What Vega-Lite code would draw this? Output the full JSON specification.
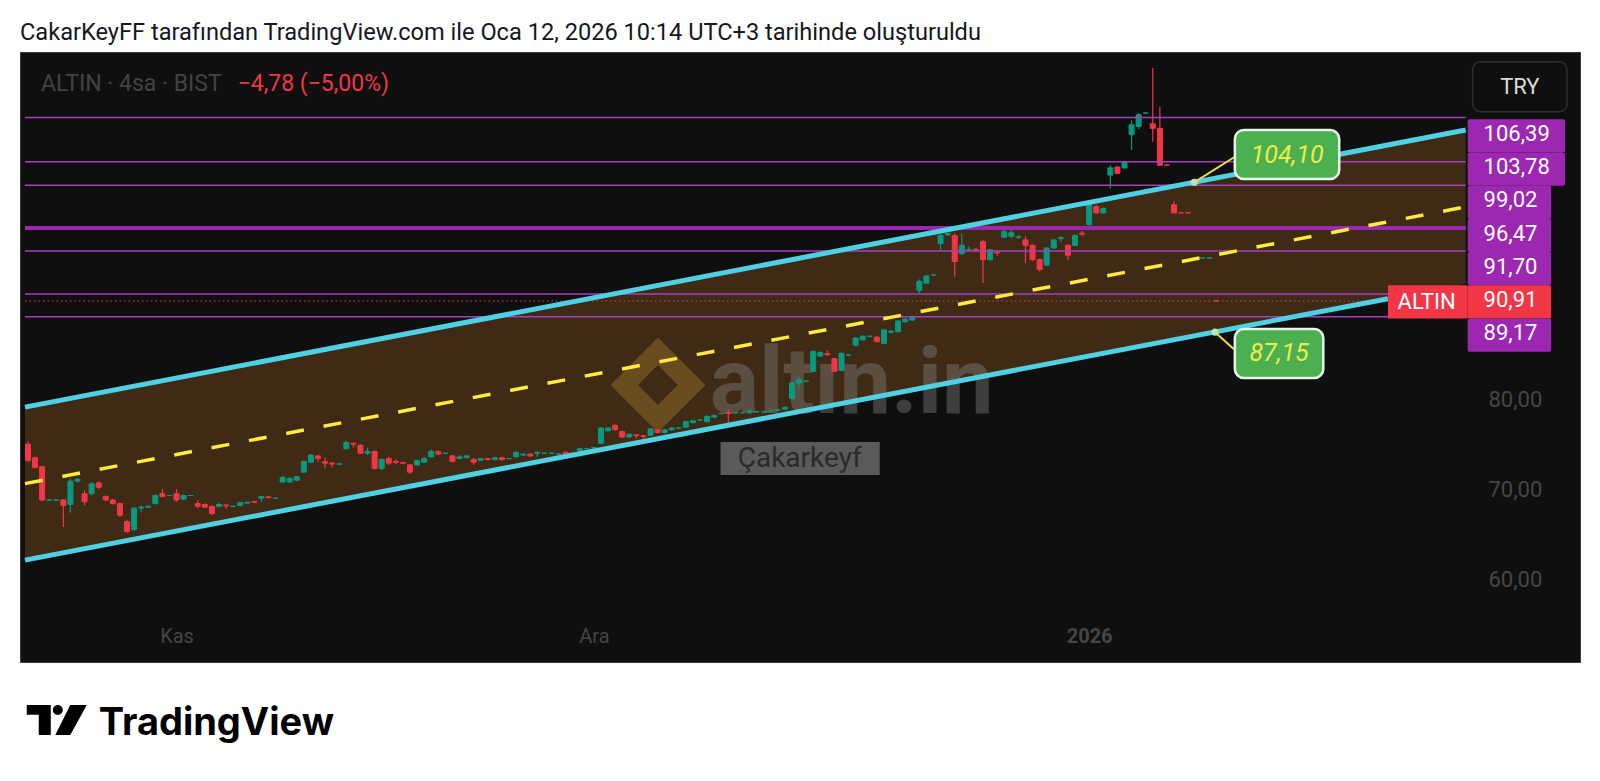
{
"$schema": "https://vega.github.io/schema/vega-lite/v6.json",
"width": 1560, "height": 610,
"autosize": {"type": "none"},
"padding": {"left": 20, "top": 52, "right": 20, "bottom": 119},
"background": "#ffffff",
"title": {"text": "CakarKeyFF tarafından TradingView.com ile Oca 12, 2026 10:14 UTC+3 tarihinde oluşturuldu", "anchor": "start", "frame": "group", "orient": "top", "font": "Roboto", "fontSize": 23.6, "fontWeight": "normal", "color": "#131722", "baseline": "alphabetic", "offset": 14, "dy": 26},
"datasets": {
"bars": [
{"i":0,"o":75.0,"h":75.3,"l":73.0,"c":73.2},{"i":1,"o":73.5,"h":73.6,"l":72.3,"c":72.4},{"i":2,"o":72.5,"h":72.6,"l":68.7,"c":68.8},{"i":3,"o":68.8,"h":68.9,"l":68.7,"c":68.8},{"i":4,"o":68.8,"h":68.9,"l":68.75,"c":68.8},{"i":5,"o":68.8,"h":68.9,"l":65.8,"c":68.2},{"i":6,"o":68.3,"h":71.2,"l":67.4,"c":70.9},{"i":7,"o":70.9,"h":71.3,"l":70.7,"c":71.1},{"i":8,"o":69.5,"h":69.9,"l":68.2,"c":68.6},{"i":9,"o":69.5,"h":70.8,"l":69.3,"c":70.6},
{"i":10,"o":70.7,"h":70.9,"l":70.0,"c":70.2},{"i":11,"o":69.2,"h":69.3,"l":68.7,"c":68.8},{"i":12,"o":68.8,"h":68.9,"l":68.3,"c":68.4},{"i":13,"o":68.4,"h":68.5,"l":66.9,"c":67.1},{"i":14,"o":66.4,"h":66.6,"l":65.1,"c":65.3},{"i":15,"o":65.5,"h":68.0,"l":65.4,"c":67.9},{"i":16,"o":67.9,"h":68.2,"l":67.4,"c":68.0},{"i":17,"o":68.0,"h":68.2,"l":67.9,"c":68.1},{"i":18,"o":68.4,"h":69.5,"l":68.3,"c":69.3},{"i":19,"o":69.5,"h":70.0,"l":69.1,"c":69.2},
{"i":20,"o":69.3,"h":69.35,"l":69.25,"c":69.3},{"i":21,"o":69.5,"h":70.0,"l":68.6,"c":68.8},{"i":22,"o":68.9,"h":69.4,"l":68.8,"c":69.3},{"i":23,"o":69.3,"h":69.35,"l":69.25,"c":69.3},{"i":24,"o":68.4,"h":68.8,"l":67.9,"c":68.1},{"i":25,"o":68.3,"h":68.4,"l":67.9,"c":68.0},{"i":26,"o":68.1,"h":68.2,"l":67.1,"c":67.3},{"i":27,"o":68.1,"h":68.5,"l":68.0,"c":68.3},{"i":28,"o":68.25,"h":68.3,"l":67.8,"c":68.15},{"i":29,"o":68.1,"h":68.15,"l":68.05,"c":68.1},
{"i":30,"o":68.2,"h":68.6,"l":68.1,"c":68.5},{"i":31,"o":68.45,"h":68.6,"l":68.4,"c":68.55},{"i":32,"o":68.65,"h":68.7,"l":68.5,"c":68.55},{"i":33,"o":69.0,"h":69.25,"l":68.6,"c":69.2},{"i":34,"o":69.15,"h":69.2,"l":69.0,"c":69.05},{"i":35,"o":69.0,"h":69.05,"l":68.95,"c":69.0},{"i":36,"o":70.8,"h":71.5,"l":70.7,"c":71.3},{"i":37,"o":70.8,"h":71.3,"l":70.7,"c":71.2},{"i":38,"o":71.0,"h":71.5,"l":70.9,"c":71.4},{"i":39,"o":71.9,"h":73.2,"l":71.8,"c":73.1},
{"i":40,"o":73.0,"h":73.9,"l":72.9,"c":73.8},{"i":41,"o":73.7,"h":73.8,"l":73.0,"c":73.4},{"i":42,"o":73.05,"h":73.5,"l":72.3,"c":72.9},{"i":43,"o":72.9,"h":73.0,"l":72.4,"c":72.8},{"i":44,"o":72.8,"h":72.85,"l":72.75,"c":72.8},{"i":45,"o":74.5,"h":75.4,"l":74.4,"c":75.2},{"i":46,"o":75.1,"h":75.2,"l":74.6,"c":75.0},{"i":47,"o":74.9,"h":75.0,"l":73.9,"c":74.0},{"i":48,"o":74.0,"h":74.6,"l":73.8,"c":74.2},{"i":49,"o":74.2,"h":74.3,"l":72.2,"c":72.3},
{"i":50,"o":72.3,"h":73.4,"l":72.1,"c":73.3},{"i":51,"o":73.4,"h":73.6,"l":72.7,"c":72.9},{"i":52,"o":73.1,"h":73.3,"l":72.8,"c":73.0},{"i":53,"o":72.95,"h":73.0,"l":72.85,"c":72.9},{"i":54,"o":72.7,"h":72.8,"l":71.7,"c":71.9},{"i":55,"o":72.7,"h":73.3,"l":72.6,"c":73.2},{"i":56,"o":73.0,"h":73.6,"l":72.9,"c":73.4},{"i":57,"o":73.6,"h":74.4,"l":73.5,"c":74.2},{"i":58,"o":74.2,"h":74.3,"l":73.8,"c":73.9},{"i":59,"o":74.0,"h":74.05,"l":73.95,"c":74.0},
{"i":60,"o":73.7,"h":73.8,"l":73.0,"c":73.1},{"i":61,"o":73.4,"h":73.8,"l":73.3,"c":73.6},{"i":62,"o":73.5,"h":73.8,"l":73.4,"c":73.7},{"i":63,"o":73.3,"h":73.5,"l":72.7,"c":73.0},{"i":64,"o":73.2,"h":73.5,"l":73.1,"c":73.4},{"i":65,"o":73.4,"h":73.5,"l":73.2,"c":73.3},{"i":66,"o":73.3,"h":73.6,"l":73.2,"c":73.5},{"i":67,"o":73.5,"h":73.6,"l":73.2,"c":73.3},{"i":68,"o":73.4,"h":73.45,"l":73.35,"c":73.4},{"i":69,"o":73.6,"h":74.2,"l":73.5,"c":74.1},
{"i":70,"o":73.8,"h":74.0,"l":73.7,"c":73.9},{"i":71,"o":73.9,"h":74.0,"l":73.6,"c":73.7},{"i":72,"o":74.0,"h":74.2,"l":73.6,"c":74.1},{"i":73,"o":74.0,"h":74.05,"l":73.95,"c":74.0},{"i":74,"o":74.0,"h":74.05,"l":73.95,"c":74.0},{"i":75,"o":73.9,"h":73.95,"l":73.85,"c":73.9},{"i":76,"o":74.1,"h":74.2,"l":73.6,"c":73.7},{"i":77,"o":74.0,"h":74.05,"l":73.95,"c":74.0},{"i":78,"o":74.3,"h":74.6,"l":74.2,"c":74.5},{"i":79,"o":74.5,"h":74.55,"l":74.45,"c":74.5},
{"i":80,"o":74.55,"h":74.7,"l":74.5,"c":74.65},{"i":81,"o":75.1,"h":76.9,"l":75.0,"c":76.8},{"i":82,"o":76.5,"h":76.9,"l":76.4,"c":76.8},{"i":83,"o":77.1,"h":77.2,"l":76.5,"c":76.6},{"i":84,"o":76.4,"h":76.5,"l":75.7,"c":75.8},{"i":85,"o":75.8,"h":76.2,"l":75.7,"c":76.1},{"i":86,"o":76.05,"h":76.1,"l":75.6,"c":75.95},{"i":87,"o":75.95,"h":76.0,"l":75.6,"c":75.85},{"i":88,"o":76.0,"h":76.8,"l":75.9,"c":76.7},{"i":89,"o":76.6,"h":76.7,"l":76.2,"c":76.3},
{"i":90,"o":76.3,"h":76.7,"l":76.2,"c":76.6},{"i":91,"o":76.6,"h":76.9,"l":76.5,"c":76.8},{"i":92,"o":76.8,"h":76.85,"l":76.75,"c":76.8},{"i":93,"o":76.9,"h":77.6,"l":76.8,"c":77.5},{"i":94,"o":77.4,"h":77.7,"l":77.3,"c":77.6},{"i":95,"o":77.7,"h":77.75,"l":77.65,"c":77.7},{"i":96,"o":77.5,"h":78.2,"l":77.4,"c":78.1},{"i":97,"o":78.0,"h":78.3,"l":77.9,"c":78.2},{"i":98,"o":78.4,"h":78.45,"l":78.35,"c":78.4},{"i":99,"o":78.5,"h":78.9,"l":77.4,"c":78.4},
{"i":100,"o":78.5,"h":78.55,"l":78.45,"c":78.5},{"i":101,"o":78.5,"h":78.55,"l":78.45,"c":78.5},{"i":102,"o":78.5,"h":78.8,"l":78.4,"c":78.7},{"i":103,"o":78.6,"h":78.65,"l":78.55,"c":78.6},{"i":104,"o":78.6,"h":78.65,"l":78.55,"c":78.6},{"i":105,"o":78.7,"h":78.75,"l":78.65,"c":78.7},{"i":106,"o":78.8,"h":78.85,"l":78.75,"c":78.8},{"i":107,"o":78.9,"h":79.2,"l":78.8,"c":79.1},{"i":108,"o":80.1,"h":81.9,"l":80.0,"c":81.8},{"i":109,"o":81.8,"h":82.5,"l":81.3,"c":82.2},
{"i":110,"o":82.0,"h":82.1,"l":81.9,"c":82.0},{"i":111,"o":83.1,"h":85.4,"l":83.0,"c":85.3},{"i":112,"o":84.8,"h":85.3,"l":84.7,"c":85.2},{"i":113,"o":85.05,"h":85.4,"l":84.8,"c":84.95},{"i":114,"o":84.5,"h":84.6,"l":83.0,"c":83.1},{"i":115,"o":83.2,"h":85.2,"l":83.1,"c":85.1},{"i":116,"o":84.9,"h":84.95,"l":84.85,"c":84.9},{"i":117,"o":86.0,"h":86.9,"l":85.9,"c":86.8},{"i":118,"o":86.6,"h":87.1,"l":86.5,"c":87.0},{"i":119,"o":87.0,"h":87.05,"l":86.95,"c":87.0},
{"i":120,"o":86.9,"h":87.0,"l":86.3,"c":86.4},{"i":121,"o":86.2,"h":87.8,"l":86.1,"c":87.7},{"i":122,"o":87.45,"h":87.7,"l":87.3,"c":87.55},{"i":123,"o":87.5,"h":88.8,"l":87.4,"c":88.7},{"i":124,"o":88.6,"h":89.0,"l":88.5,"c":88.9},{"i":125,"o":88.8,"h":89.3,"l":88.7,"c":89.2},{"i":126,"o":92.1,"h":93.3,"l":91.8,"c":93.1},{"i":127,"o":92.9,"h":93.8,"l":92.8,"c":93.7},{"i":128,"o":93.8,"h":93.85,"l":93.75,"c":93.8},{"i":129,"o":97.3,"h":98.4,"l":96.6,"c":98.2},
{"i":130,"o":98.3,"h":98.5,"l":98.1,"c":98.4},{"i":131,"o":98.2,"h":98.4,"l":93.6,"c":95.3},{"i":132,"o":96.2,"h":98.4,"l":96.0,"c":97.1},{"i":133,"o":96.6,"h":97.0,"l":96.5,"c":96.65},{"i":134,"o":96.65,"h":96.8,"l":96.4,"c":96.55},{"i":135,"o":97.5,"h":97.7,"l":92.9,"c":95.5},{"i":136,"o":95.5,"h":96.7,"l":95.4,"c":96.6},{"i":137,"o":96.35,"h":96.4,"l":95.9,"c":96.25},{"i":138,"o":98.0,"h":99.2,"l":97.9,"c":98.6},{"i":139,"o":98.1,"h":99.1,"l":97.9,"c":98.5},
{"i":140,"o":98.0,"h":98.2,"l":97.8,"c":98.05},{"i":141,"o":97.7,"h":98.1,"l":95.1,"c":97.1},{"i":142,"o":97.1,"h":97.2,"l":95.4,"c":95.5},{"i":143,"o":95.5,"h":95.6,"l":94.2,"c":94.4},{"i":144,"o":94.9,"h":96.9,"l":94.8,"c":96.8},{"i":145,"o":96.8,"h":97.8,"l":96.7,"c":97.7},{"i":146,"o":97.85,"h":98.1,"l":97.5,"c":97.95},{"i":147,"o":97.1,"h":97.2,"l":95.4,"c":96.0},{"i":148,"o":97.1,"h":98.3,"l":97.0,"c":98.2},{"i":149,"o":98.45,"h":98.7,"l":98.1,"c":98.35},
{"i":150,"o":99.4,"h":102.1,"l":99.3,"c":101.9},{"i":151,"o":101.4,"h":101.6,"l":100.6,"c":100.7},{"i":152,"o":100.7,"h":101.3,"l":100.6,"c":101.2},{"i":153,"o":104.9,"h":106.0,"l":103.4,"c":105.7},{"i":154,"o":105.8,"h":105.9,"l":105.0,"c":105.1},{"i":155,"o":105.7,"h":106.5,"l":105.6,"c":106.4},{"i":156,"o":109.4,"h":111.0,"l":107.7,"c":110.5},{"i":157,"o":110.3,"h":111.8,"l":110.0,"c":111.6},{"i":158,"o":111.8,"h":111.85,"l":111.75,"c":111.8},{"i":159,"o":110.6,"h":116.8,"l":108.6,"c":110.1},
{"i":160,"o":110.1,"h":112.5,"l":106.0,"c":106.0},{"i":161,"o":106.02,"h":106.05,"l":105.97,"c":106.0},{"i":162,"o":101.6,"h":102.0,"l":100.7,"c":100.7},{"i":163,"o":100.72,"h":100.74,"l":100.68,"c":100.7},{"i":164,"o":100.72,"h":100.74,"l":100.68,"c":100.7},{"i":165,"o":95.72,"h":95.74,"l":95.67,"c":95.69},{"i":166,"o":95.69,"h":95.71,"l":95.67,"c":95.69},{"i":167,"o":95.69,"h":95.72,"l":95.67,"c":95.69},{"i":168,"o":90.93,"h":90.95,"l":90.89,"c":90.91}
],
"chan": [{"i":-0.42,"up":79.12,"lo":62.12},{"i":203.23,"up":109.91,"lo":92.83}],
"clines": [{"ln":"up","i":-0.42,"p":79.12},{"ln":"up","i":203.23,"p":109.91},{"ln":"lo","i":-0.42,"p":62.12},{"ln":"lo","i":192.24,"p":91.17},{"ln":"mid","i":-0.42,"p":70.62},{"ln":"mid","i":203.23,"p":101.37}],
"levels": [{"p":111.3,"kind":"thin"},{"p":106.39,"kind":"thin"},{"p":103.78,"kind":"thin"},{"p":99.02,"kind":"thick"},{"p":96.47,"kind":"thin"},{"p":91.70,"kind":"thin"},{"p":89.17,"kind":"thin"}],
"callouts": [
{"lbl":"104,10","ai":164.85,"ap":104.1,"bi":170.6,"bp":106.94,"x1":170.6,"x2":185.35,"p1":109.91,"p2":104.47,"ti":177.98,"tp":107.19},
{"lbl":"87,15","ai":167.8,"ap":87.45,"bi":170.6,"bp":85.47,"x1":170.6,"x2":183.1,"p1":87.8,"p2":82.36,"ti":176.85,"tp":85.08}
],
"plabels": [{"lab":"106,39"},{"lab":"103,78"},{"lab":"99,02"},{"lab":"96,47"},{"lab":"91,70"},{"lab":"90,91"},{"lab":"89,17"}]
},
"layer": [
{"layer": [
 {"data": {"name": "chan"}, "mark": {"type": "area", "color": "#3e2a15"},
  "encoding": {
   "x": {"field": "i", "type": "quantitative", "scale": {"domain": [-0.42, 218.68], "nice": false, "zero": false},
     "axis": {"orient": "bottom", "offset": -36, "values": [21, 80, 150], "labelExpr": "datum.value == 21 ? 'Kas' : datum.value == 80 ? 'Ara' : '2026'", "domain": false, "ticks": false, "tickSize": 0, "grid": false, "labelPadding": 0, "labelFlush": false, "labelOverlap": false, "labelFont": "Roboto", "labelFontSize": 20, "labelColor": "#464646", "labelBaseline": "top", "labelFontWeight": {"condition": {"test": "datum.value == 150", "value": "bold"}, "value": "normal"}, "title": null}},
   "y": {"field": "up", "type": "quantitative", "scale": {"domain": [50.8, 118.58], "nice": false, "zero": false},
     "axis": {"orient": "right", "offset": -92, "values": [60, 70, 80], "labelExpr": "replace(format(datum.value, '.2f'), '.', ',')", "domain": false, "ticks": false, "tickSize": 0, "grid": false, "labelPadding": 0, "labelAlign": "left", "labelBaseline": "middle", "labelFont": "Roboto", "labelFontSize": 22, "labelColor": "#464646", "title": null}},
   "y2": {"field": "lo"}}},
 {"data": {"values": [{}]}, "mark": {"type": "point", "shape": "M0,-1L1,0L0,1L-1,0Z M0,-0.42L-0.42,0L0,0.42L0.42,0Z", "filled": true, "color": "#8c6a2c", "opacity": 0.55, "size": 9000},
  "encoding": {"x": {"datum": 89.05}, "y": {"datum": 81.58}}},
 {"data": {"values": [{}]}, "mark": {"type": "text", "text": "altın.in", "font": "Roboto", "fontWeight": "bold", "fontSize": 92, "color": "#8c8c8c", "opacity": 0.38, "align": "center", "baseline": "alphabetic"},
  "encoding": {"x": {"datum": 116.43}, "y": {"datum": 78.47}}},
 {"data": {"values": [{}]}, "mark": {"type": "rect", "color": "#5a5a5a"},
  "encoding": {"x": {"datum": 97.9}, "x2": {"datum": 120.4}, "y": {"datum": 75.24}, "y2": {"datum": 71.58}}},
 {"data": {"values": [{}]}, "mark": {"type": "text", "text": "Çakarkeyf", "font": "Roboto", "fontSize": 28, "color": "#2a2a2a", "align": "center", "baseline": "middle"},
  "encoding": {"x": {"datum": 109.1}, "y": {"datum": 73.41}}},
 {"data": {"name": "bars"}, "mark": {"type": "rule", "strokeWidth": 1.2},
  "encoding": {"x": {"field": "i", "type": "quantitative"}, "y": {"field": "l", "type": "quantitative"}, "y2": {"field": "h"},
   "color": {"condition": {"test": "datum.c >= datum.o", "value": "#089981"}, "value": "#f23645"}}},
 {"data": {"name": "bars"}, "mark": {"type": "bar", "size": 5, "strokeWidth": 1},
  "encoding": {"x": {"field": "i", "type": "quantitative"}, "y": {"field": "o", "type": "quantitative"}, "y2": {"field": "c"},
   "fill": {"condition": {"test": "datum.c >= datum.o", "value": "#089981"}, "value": "#f23645"},
   "stroke": {"condition": {"test": "datum.c >= datum.o", "value": "#089981"}, "value": "#f23645"}}},
 {"data": {"name": "levels"}, "mark": {"type": "rule"},
  "encoding": {"y": {"field": "p", "type": "quantitative"}, "x": {"datum": -0.42}, "x2": {"datum": 203.23},
   "color": {"condition": {"test": "datum.kind == 'thick'", "value": "#9c27b0"}, "value": "#a63fbb"},
   "strokeWidth": {"condition": {"test": "datum.kind == 'thick'", "value": 4}, "value": 1.5}}},
 {"data": {"values": [{"p": 90.91}]}, "mark": {"type": "rule", "color": "#f23645", "strokeWidth": 1, "strokeDash": [1.5, 3]},
  "encoding": {"y": {"field": "p", "type": "quantitative"}, "x": {"datum": -0.42}, "x2": {"datum": 192.24}}},
 {"data": {"name": "clines"}, "transform": [{"filter": "datum.ln == 'mid'"}], "mark": {"type": "line", "color": "#ffeb3b", "strokeWidth": 3.5, "strokeDash": [18, 20]},
  "encoding": {"x": {"field": "i", "type": "quantitative"}, "y": {"field": "p", "type": "quantitative"}, "detail": {"field": "ln"}}},
 {"data": {"name": "clines"}, "transform": [{"filter": "datum.ln != 'mid'"}], "mark": {"type": "line", "color": "#4fd0e3", "strokeWidth": 5},
  "encoding": {"x": {"field": "i", "type": "quantitative"}, "y": {"field": "p", "type": "quantitative"}, "detail": {"field": "ln"}}},
 {"data": {"name": "callouts"}, "mark": {"type": "rule", "color": "#e8dc4c", "strokeWidth": 2},
  "encoding": {"x": {"field": "ai", "type": "quantitative"}, "y": {"field": "ap", "type": "quantitative"}, "x2": {"field": "bi"}, "y2": {"field": "bp"}}},
 {"data": {"name": "callouts"}, "mark": {"type": "point", "filled": true, "color": "#b9e8a8", "size": 50, "opacity": 1},
  "encoding": {"x": {"field": "ai", "type": "quantitative"}, "y": {"field": "ap", "type": "quantitative"}}},
 {"data": {"name": "callouts"}, "mark": {"type": "rect", "fill": "#4caf50", "stroke": "#e8f5e9", "strokeWidth": 2.5, "cornerRadius": 9},
  "encoding": {"x": {"field": "x1", "type": "quantitative"}, "x2": {"field": "x2"}, "y": {"field": "p1", "type": "quantitative"}, "y2": {"field": "p2"}}},
 {"data": {"name": "callouts"}, "mark": {"type": "text", "font": "Roboto", "fontSize": 25, "fontStyle": "italic", "color": "#ecec4a", "align": "center", "baseline": "middle"},
  "encoding": {"x": {"field": "ti", "type": "quantitative"}, "y": {"field": "tp", "type": "quantitative"}, "text": {"field": "lbl"}}},
 {"data": {"values": [{}]}, "mark": {"type": "text", "text": "ALTIN · 4sa · BIST", "font": "Roboto", "fontSize": 23, "color": "#434343", "align": "left", "baseline": "alphabetic"},
  "encoding": {"x": {"datum": 1.83}, "y": {"datum": 114.24}}},
 {"data": {"values": [{}]}, "mark": {"type": "text", "text": "−4,78 (−5,00%)", "font": "Roboto", "fontSize": 23, "color": "#f23645", "align": "left", "baseline": "alphabetic"},
  "encoding": {"x": {"datum": 29.64}, "y": {"datum": 114.24}}},
 {"data": {"values": [{}]}, "mark": {"type": "rect", "fill": "#0f0f0f", "stroke": "#2e2e2e", "strokeWidth": 1.5, "cornerRadius": 8},
  "encoding": {"x": {"datum": 204.21}, "x2": {"datum": 217.55}, "y": {"datum": 117.5}, "y2": {"datum": 111.94}}},
 {"data": {"values": [{}]}, "mark": {"type": "text", "text": "TRY", "font": "Roboto", "fontSize": 22, "color": "#dcdcdc", "align": "center", "baseline": "middle"},
  "encoding": {"x": {"datum": 210.89}, "y": {"datum": 114.69}}},
 {"data": {"values": [{}]}, "mark": {"type": "point", "shape": "M-1,-0.5L-0.2,-0.5L-0.2,0.5L-0.6,0.5L-0.6,-0.17L-1,-0.17Z M-0.13,-0.33A0.165,0.165 0 1 0 0.2,-0.33A0.165,0.165 0 1 0 -0.13,-0.33Z M0.45,-0.5L1,-0.5L0.45,0.5L-0.05,0.5Z", "filled": true, "color": "#000000", "opacity": 1, "size": 3600},
  "encoding": {"x": {"datum": 4.07}, "y": {"datum": 44.36}}},
 {"data": {"values": [{}]}, "mark": {"type": "text", "text": "TradingView", "font": "Inter", "fontWeight": "bold", "fontSize": 38, "color": "#000000", "align": "left", "baseline": "alphabetic"},
  "encoding": {"x": {"datum": 10.0}, "y": {"datum": 42.69}}}
]},
{"layer": [
 {"data": {"name": "plabels"}, "transform": [{"filter": "datum.lab != '106,39' && datum.lab != '103,78'"}], "mark": {"type": "bar", "size": 33.3, "cornerRadius": 2},
  "encoding": {"y": {"field": "lab", "type": "nominal", "scale": {"type": "point", "domain": ["106,39", "103,78", "99,02", "96,47", "91,70", "90,91", "89,17"], "range": [83.9, 283.1], "padding": 0}, "axis": null},
   "x": {"datum": 203.51}, "x2": {"datum": 215.31},
   "color": {"condition": {"test": "datum.lab == '90,91'", "value": "#f23645"}, "value": "#9c27b0"}}},
 {"data": {"name": "plabels"}, "transform": [{"filter": "datum.lab == '106,39' || datum.lab == '103,78'"}], "mark": {"type": "bar", "size": 33.3, "cornerRadius": 2, "color": "#9c27b0"},
  "encoding": {"y": {"field": "lab", "type": "nominal"}, "x": {"datum": 203.51}, "x2": {"datum": 217.28}}},
 {"data": {"name": "plabels"}, "transform": [{"filter": "datum.lab == '90,91'"}], "mark": {"type": "bar", "size": 33.3, "color": "#f23645"},
  "encoding": {"y": {"field": "lab", "type": "nominal"}, "x": {"datum": 192.24}, "x2": {"datum": 203.51}}},
 {"data": {"name": "plabels"}, "transform": [{"filter": "datum.lab == '90,91'"}], "mark": {"type": "text", "text": "ALTIN", "font": "Roboto", "fontSize": 22, "color": "#ffffff", "align": "center", "baseline": "middle"},
  "encoding": {"y": {"field": "lab", "type": "nominal"}, "x": {"datum": 197.7}}},
 {"data": {"name": "plabels"}, "mark": {"type": "text", "font": "Roboto", "fontSize": 22, "color": "#ffffff", "align": "left", "baseline": "middle", "dy": -2},
  "encoding": {"y": {"field": "lab", "type": "nominal"}, "x": {"datum": 205.76}, "text": {"field": "lab"}}}
]}
],
"resolve": {"scale": {"y": "independent"}},
"config": {"view": {"fill": "#0f0f0f", "stroke": "#3c3c3c", "strokeWidth": 1}, "font": "Roboto"}
}
